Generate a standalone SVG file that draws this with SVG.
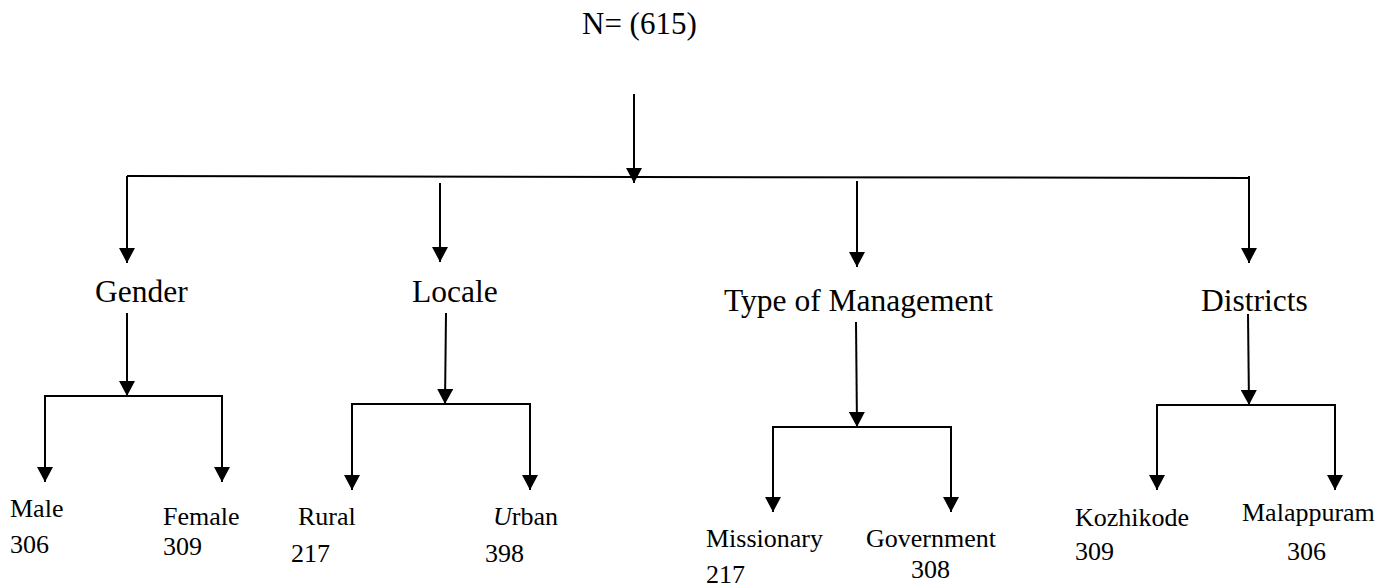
<svg xmlns="http://www.w3.org/2000/svg" width="1392" height="588" viewBox="0 0 1392 588">
<style>
text{font-family:"Liberation Serif","Times New Roman",serif;fill:#000}
.t0{font-size:31px}
.t1{font-size:31.5px}
.t2{font-size:26px}
.c line,.c polyline{stroke:#000;stroke-width:2;fill:none}
</style>
<defs>
<marker id="ah" markerUnits="userSpaceOnUse" viewBox="0 -8 15 16" markerWidth="15" markerHeight="16" refX="15" refY="0" orient="auto">
<path d="M0,-8 L15,0 L0,8 Z" fill="#000"/>
</marker>
</defs>
<rect width="1392" height="588" fill="#fff"/>
<g class="c" id="connectors">
<line x1="634" y1="94" x2="634" y2="183" marker-end="url(#ah)"/>
<line x1="127" y1="176" x2="1249" y2="178"/>
<line x1="127" y1="176" x2="127" y2="263" marker-end="url(#ah)"/>
<line x1="440" y1="183" x2="440" y2="262" marker-end="url(#ah)"/>
<line x1="857" y1="181" x2="857" y2="267" marker-end="url(#ah)"/>
<line x1="1249" y1="176" x2="1249" y2="263" marker-end="url(#ah)"/>
<line x1="127" y1="313" x2="127" y2="396" marker-end="url(#ah)"/>
<line x1="446" y1="313" x2="445" y2="404" marker-end="url(#ah)"/>
<line x1="856" y1="322" x2="857" y2="427" marker-end="url(#ah)"/>
<line x1="1248" y1="314" x2="1249" y2="405" marker-end="url(#ah)"/>
<polyline points="45,396 222,396"/>
<line x1="45" y1="395" x2="45" y2="482" marker-end="url(#ah)"/>
<line x1="222" y1="395" x2="222" y2="482" marker-end="url(#ah)"/>
<polyline points="352,404 530,404"/>
<line x1="352" y1="403" x2="352" y2="490" marker-end="url(#ah)"/>
<line x1="530" y1="403" x2="530" y2="490" marker-end="url(#ah)"/>
<polyline points="773,427 951,427"/>
<line x1="773" y1="426" x2="773" y2="512" marker-end="url(#ah)"/>
<line x1="951" y1="426" x2="951" y2="512" marker-end="url(#ah)"/>
<polyline points="1157,405 1335,405"/>
<line x1="1157" y1="404" x2="1157" y2="490" marker-end="url(#ah)"/>
<line x1="1335" y1="404" x2="1335" y2="490" marker-end="url(#ah)"/>
</g>
<g id="root"><text class="t0" x="582" y="34">N= (615)</text></g>
<g id="gender"><text class="t1" x="95" y="302">Gender</text></g>
<g id="locale"><text class="t1" x="412" y="302">Locale</text></g>
<g id="management"><text class="t1" x="724" y="311">Type of Management</text></g>
<g id="districts"><text class="t1" x="1201" y="311">Districts</text></g>
<g id="male"><text class="t2" x="10" y="517">Male</text><text class="t2" x="10" y="553">306</text></g>
<g id="female"><text class="t2" x="163" y="525">Female</text><text class="t2" x="163" y="555">309</text></g>
<g id="rural"><text class="t2" x="298" y="525">Rural</text><text class="t2" x="291" y="562">217</text></g>
<g id="urban"><text class="t2" x="493" y="525"><tspan font-style="italic">U</tspan>rban</text><text class="t2" x="485" y="562">398</text></g>
<g id="missionary"><text class="t2" x="706" y="547">Missionary</text><text class="t2" x="706" y="583">217</text></g>
<g id="government"><text class="t2" x="866" y="547">Government</text><text class="t2" x="911" y="578">308</text></g>
<g id="kozhikode"><text class="t2" x="1075" y="526">Kozhikode</text><text class="t2" x="1075" y="560">309</text></g>
<g id="malappuram"><text class="t2" x="1242" y="521">Malappuram</text><text class="t2" x="1287" y="560">306</text></g>
</svg>
